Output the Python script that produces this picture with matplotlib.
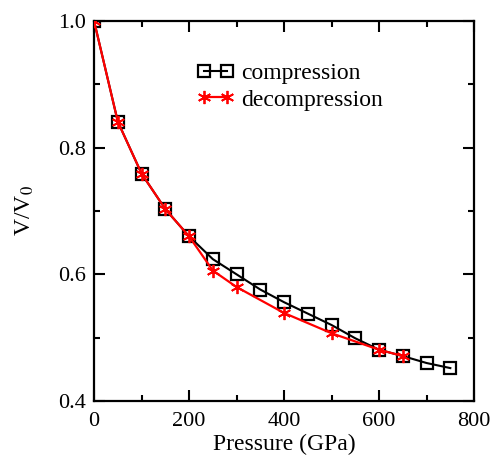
import matplotlib
matplotlib.use("Agg")
import matplotlib.pyplot as plt
from matplotlib.ticker import MultipleLocator

plt.rcParams["font.family"] = ["Liberation Serif", "DejaVu Serif"]
plt.rcParams["mathtext.fontset"] = "stix"

# compression run
p_comp = [0, 50, 100, 150, 200, 250, 300, 350, 400, 450, 500, 550, 600, 650, 700, 750]
v_comp = [1.0, 0.841, 0.759, 0.703, 0.660, 0.624, 0.600, 0.576, 0.556, 0.538,
          0.520, 0.499, 0.481, 0.471, 0.460, 0.452]

# decompression run
p_decomp = [0, 50, 100, 150, 200, 250, 300, 400, 500, 600, 650]
v_decomp = [1.0, 0.841, 0.759, 0.703, 0.660, 0.606, 0.580, 0.539, 0.507, 0.481, 0.471]

fig = plt.figure(figsize=(4.9, 4.57), dpi=100)
ax = fig.add_axes([0.192, 0.1225, 0.7755, 0.8315])

ax.plot(p_comp, v_comp, color="black", lw=1.5, marker="s", ms=8.5,
        mfc="none", mec="black", mew=1.6, label="compression", zorder=2)
ax.plot(p_decomp, v_decomp, color="red", lw=1.6, marker=(6, 2, 0), ms=9.5,
        mec="red", mew=1.3, label="decompression", zorder=3)

ax.set_xlim(0, 800)
ax.set_ylim(0.4, 1.0)
ax.xaxis.set_major_locator(MultipleLocator(200))
ax.xaxis.set_minor_locator(MultipleLocator(100))
ax.yaxis.set_major_locator(MultipleLocator(0.2))
ax.yaxis.set_minor_locator(MultipleLocator(0.1))
ax.tick_params(which="both", direction="in", top=True, right=True,
               labelsize=16, width=1.5)
ax.tick_params(which="major", length=8)
ax.tick_params(which="minor", length=4)
ax.tick_params(axis="x", pad=8)
ax.tick_params(axis="y", pad=6)
for s in ax.spines.values():
    s.set_linewidth(1.6)

ax.set_xlabel("Pressure (GPa)", fontsize=17, labelpad=2)
ax.set_ylabel("V/V$_0$", fontsize=17, labelpad=16)

ax.legend(loc="upper left", bbox_to_anchor=(0.245, 0.915), frameon=False,
          fontsize=17, numpoints=2, handlelength=1.6, handletextpad=0.3,
          labelspacing=0.2, borderaxespad=0)

fig.savefig("out.png", dpi=100)
